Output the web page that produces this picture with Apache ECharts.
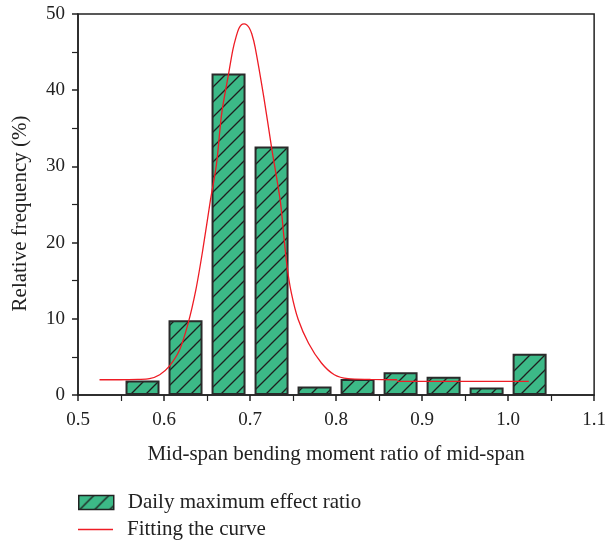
<!DOCTYPE html>
<html>
<head>
<meta charset="utf-8">
<script src="https://cdn.jsdelivr.net/npm/echarts@6/dist/echarts.min.js"></script>
<style>
html,body{margin:0;padding:0;background:#fff;}
#chart{width:609px;height:542px;}
</style>
</head>
<body>
<div id="chart"></div>
<script>
// Data
var binCenters = [0.575, 0.625, 0.675, 0.725, 0.775, 0.825, 0.875, 0.925, 0.975, 1.025];
var frequencies = [1.9, 9.8, 42.2, 32.6, 1.1, 2.1, 3.0, 2.4, 1.0, 5.4];
var curveX = [0.525, 0.55, 0.57, 0.583, 0.595, 0.606, 0.618, 0.628, 0.637, 0.645, 0.654, 0.661, 0.667, 0.675, 0.680, 0.684, 0.687, 0.690, 0.693, 0.696, 0.699, 0.702, 0.706, 0.716, 0.725, 0.735, 0.739, 0.743, 0.748, 0.756, 0.768, 0.783, 0.798, 0.814, 0.84, 0.871];
var curveY = [2.0, 2.0, 2.05, 2.14, 2.66, 3.75, 5.9, 9.4, 13.8, 19.0, 25.6, 30.3, 36.9, 42.1, 45.3, 47.1, 48.1, 48.6, 48.7, 48.6, 48.2, 47.4, 45.6, 39.1, 32.5, 25.6, 21.2, 16.9, 13.4, 9.9, 6.8, 4.2, 2.66, 2.14, 2.05, 2.0];
var tailX = [0.871, 1.024];
var tailY = [1.8, 1.8];
var xTicks = [0.5, 0.6, 0.7, 0.8, 0.9, 1.0, 1.1];
var yTicks = [0, 10, 20, 30, 40, 50];

var barName = 'Daily maximum effect ratio';
var curveName = 'Fitting the curve';

// hatch pattern
function makePattern() {
  var s = 15;
  var c = document.createElement('canvas');
  c.width = s; c.height = s;
  var g = c.getContext('2d');
  g.fillStyle = '#3cb987';
  g.fillRect(0, 0, s, s);
  g.strokeStyle = '#1e1e1e';
  g.lineWidth = 1.3;
  g.beginPath();
  g.moveTo(-2, s + 2); g.lineTo(s + 2, -2);
  g.moveTo(-2, 2); g.lineTo(2, -2);
  g.moveTo(s - 2, s + 2); g.lineTo(s + 2, s - 2);
  g.stroke();
  return c;
}
var pattern = { image: makePattern(), repeat: 'repeat' };

var barData = binCenters.map(function (x, i) { return [x, frequencies[i]]; });
var curveData = curveX.map(function (x, i) { return [x, curveY[i]]; });
var tailData = tailX.map(function (x, i) { return [x, tailY[i]]; });

var font = 'Liberation Serif';
var ink = '#222';
var axisCommon = {
  axisLine: { show: true, lineStyle: { color: ink, width: 1.5 } },
  axisTick: { show: true, inside: false, length: 6, lineStyle: { color: ink, width: 1.5 } },
  minorTick: { show: true, splitNumber: 2, length: 6, lineStyle: { color: ink, width: 1.2 } },
  splitLine: { show: false }
};
var chart = echarts.init(document.getElementById('chart'), null, { renderer: 'canvas' });
chart.setOption({
  animation: false,
  backgroundColor: '#fff',
  textStyle: { fontFamily: font },
  grid: { left: 78, right: 11, top: 14, bottom: 147, show: true, borderColor: ink, borderWidth: 1.5, backgroundColor: 'transparent' },
  legend: [
    {
      left: 73, top: 487, itemWidth: 35, itemHeight: 14, icon: 'rect',
      textStyle: { fontFamily: font, fontSize: 21, color: ink, padding: [0, 0, 0, 9] },
      data: [{ name: barName, itemStyle: { color: pattern, borderColor: ink, borderWidth: 1.5 } }]
    },
    {
      left: 73, top: 514, itemWidth: 35, itemHeight: 1.5, icon: 'rect',
      textStyle: { fontFamily: font, fontSize: 21, color: ink, padding: [0, 0, 0, 9] },
      data: [{ name: curveName, itemStyle: { color: '#ee1c25', borderWidth: 0 } }]
    }
  ],
  xAxis: Object.assign({
    type: 'value', min: 0.5, max: 1.1, interval: 0.1,
    name: 'Mid-span bending moment ratio of mid-span', nameLocation: 'middle', nameGap: 49,
    nameTextStyle: { fontFamily: font, fontSize: 21, color: ink },
    axisLabel: { margin: 16, fontFamily: font, fontSize: 19, color: ink, formatter: function (v) { return v.toFixed(1); } }
  }, axisCommon),
  yAxis: Object.assign({
    type: 'value', min: 0, max: 50, interval: 10,
    name: 'Relative frequency (%)', nameLocation: 'middle', nameGap: 47,
    nameTextStyle: { fontFamily: font, fontSize: 21, color: ink, padding: [0, 18, 0, 0] },
    axisLabel: { margin: 13, fontFamily: font, fontSize: 19, color: ink }
  }, axisCommon),
  series: [
    {
      name: barName, type: 'bar', data: barData, barWidth: 34,
      itemStyle: { color: pattern, borderColor: '#2a2a2a', borderWidth: 2 },
      z: 2
    },
    {
      name: curveName, type: 'line', data: curveData, symbol: 'none', smooth: 0.3,
      lineStyle: { color: '#ee1c25', width: 1.3 }, itemStyle: { color: '#ee1c25' }, z: 3
    },
    {
      name: 'tail', type: 'line', data: tailData, symbol: 'none',
      lineStyle: { color: '#ee1c25', width: 1.3 }, itemStyle: { color: '#ee1c25' }, z: 3
    }
  ]
});
</script>
</body>
</html>
